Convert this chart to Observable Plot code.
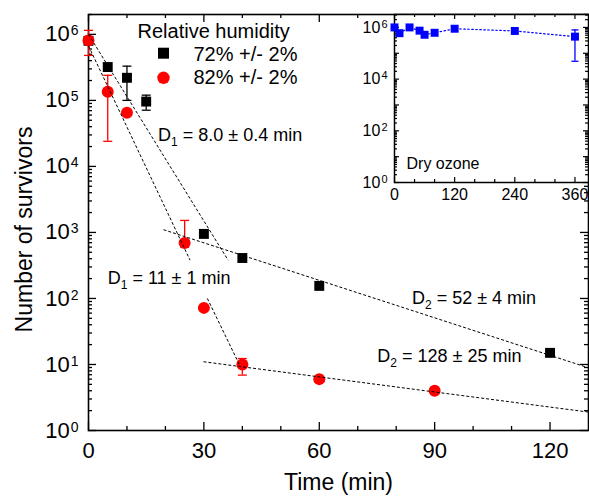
<!DOCTYPE html>
<html><head><meta charset="utf-8">
<script src="https://cdn.jsdelivr.net/npm/d3@7"></script>
<script src="https://cdn.jsdelivr.net/npm/@observablehq/plot@0.6"></script>
<style>
html,body{margin:0;padding:0;background:#fff;}
#wrap{position:relative;width:589px;height:496px;overflow:hidden;}
#inset{position:absolute;left:340px;top:0;}
#main svg,#inset svg{display:block;}
</style></head><body>
<div id="wrap"><div id="main"></div><div id="inset"></div></div>
<script>
const FONT = '"Liberation Sans", Arial, Helvetica, sans-serif';

// ---- main data: 72% RH (black squares)
const t72 = [0, 5, 10, 15, 30, 40, 60, 120];
const n72 = [8e5, 3.2e5, 2.2e5, 9.6e4, 950, 410, 155, 15];
const errT72 = [10, 15];
const errLo72 = [1.0e5, 7.1e4];
const errHi72 = [3.3e5, 1.2e5];

// ---- main data: 82% RH (red circles)
const t82 = [0, 5, 10, 25, 30, 40, 60, 90];
const n82 = [8.1e5, 1.35e5, 6.5e4, 690, 72, 10, 6, 4];
const errT82 = [0, 5, 25, 40];
const errLo82 = [4.8e5, 2.4e4, 600, 6.9];
const errHi82 = [1.15e6, 2.4e5, 1520, 12.3];

// ---- fitted lines (segments)
const fitT0 = [0, 0, 19.5, 30.9, 29.9];
const fitN0 = [1e6, 6.7e5, 1100, 100, 11];
const fitT1 = [36.3, 26.4, 130, 39.4, 130];
const fitN1 = [380, 380, 8.9, 9.5, 1.9];

// ---- annotations
const annT = [18.1, 5.0, 84.1, 75.1];
const annN = [2.95e4, 201, 100, 13.2];
const annText = ["D_1 = 8.0 ± 0.4 min", "D_1 = 11 ± 1 min", "D_2 = 52 ± 4 min", "D_2 = 128 ± 25 min"];

// ---- legend / titles
const legendTitle = "Relative humidity";
const legendLabels = ["72% +/- 2%", "82% +/- 2%"];
const xTitle = "Time (min)";
const yTitle = "Number of survivors";
const xTicks = [0, 30, 60, 90, 120];
const yTicks = [1, 10, 100, 1e3, 1e4, 1e5, 1e6];

// ---- inset data: dry ozone
const tOz = [0, 10, 30, 50, 60, 80, 120, 240, 360];
const nOz = [1e6, 6e5, 1e6, 7.5e5, 5.2e5, 6.2e5, 8.9e5, 7.3e5, 4.4e5];
const errTOz = [360];
const errLoOz = [4.9e4];
const errHiOz = [8e5];
const insetLabel = "Dry ozone";
const insetXTicks = [0, 120, 240, 360];
const insetYTicks = [1, 1e2, 1e4, 1e6];

// ---- helpers
const zip = (a, b) => a.map((v, i) => ({t: v, n: b[i]}));
const errTable = (t, lo, hi) => t.map((v, i) => ({t: v, lo: lo[i], hi: hi[i]}));
const minorLog = (lo, hi) => { const r = []; for (let e = lo; e < hi; e++) for (let k = 2; k <= 9; k++) r.push(k * 10 ** e); return r; };
const cap = {draw(ctx, size) { const h = Math.sqrt(size / Math.PI); ctx.moveTo(-h, 0); ctx.lineTo(h, 0); }};
const expFmt = d => "10^" + Math.round(Math.log10(d));

const NS = "http://www.w3.org/2000/svg";
function richText(svg, supSize, supDy, subSize, subDy) {
  svg.querySelectorAll("text").forEach(el => {
    const s = el.textContent;
    let m = s.match(/^(10)\^(\d+)$/);
    if (m) {
      el.textContent = m[1];
      const ts = document.createElementNS(NS, "tspan");
      ts.setAttribute("dy", supDy); ts.setAttribute("dx", 1);
      ts.setAttribute("font-size", supSize); ts.textContent = m[2];
      el.appendChild(ts);
      return;
    }
    m = s.match(/^(.*?)_(\d)(.*)$/);
    if (m) {
      el.textContent = m[1];
      const a = document.createElementNS(NS, "tspan");
      a.setAttribute("dy", subDy); a.setAttribute("font-size", subSize); a.textContent = m[2];
      const b = document.createElementNS(NS, "tspan");
      b.setAttribute("dy", -subDy); b.textContent = m[3];
      el.appendChild(a); el.appendChild(b);
    }
  });
}

// ---- main plot
const W = 589, H = 496, mL = 88, mR = 1, mT = 14, mB = 66;
const fw = W - mL - mR, fh = H - mT - mB;
const xMinor = d3.range(10, 130, 10).filter(v => v % 30 !== 0);
const yMinor = minorLog(0, 6).concat([2e6]).filter(v => v <= 2e6);
const fits = fitT0.map((v, i) => ({t0: v, n0: fitN0[i], t1: fitT1[i], n1: fitN1[i]}));
const anns = annT.map((v, i) => ({t: v, n: annN[i], label: annText[i]}));
const tk = {stroke: "black", strokeWidth: 1.3};

const main = Plot.plot({
  width: W, height: H, marginLeft: mL, marginRight: mR, marginTop: mT, marginBottom: mB,
  style: {fontFamily: FONT, fontSize: "22px", background: "white", color: "black"},
  x: {domain: [0, 130]},
  y: {type: "log", domain: [1, 2e6]},
  marks: [
    Plot.tickX(xMinor, {x: d => d, insetTop: fh - 4, ...tk}),
    Plot.tickX(xMinor, {x: d => d, insetBottom: fh - 4, ...tk}),
    Plot.tickX(xTicks, {x: d => d, insetTop: fh - 8, ...tk}),
    Plot.tickX(xTicks, {x: d => d, insetBottom: fh - 8, ...tk}),
    Plot.tickY(yMinor, {y: d => d, insetRight: fw - 4, ...tk}),
    Plot.tickY(yMinor, {y: d => d, insetLeft: fw - 4, ...tk}),
    Plot.tickY(yTicks, {y: d => d, insetRight: fw - 8, ...tk}),
    Plot.tickY(yTicks, {y: d => d, insetLeft: fw - 8, ...tk}),
    Plot.axisX({ticks: xTicks, tickSize: 0, tickPadding: 12, label: null, fontSize: 22}),
    Plot.axisY({ticks: yTicks, tickSize: 0, tickPadding: 10, label: null, fontSize: 22, tickFormat: expFmt}),
    Plot.frame({stroke: "black", strokeWidth: 1.6}),
    // error bars
    Plot.ruleX(errTable(errT72, errLo72, errHi72), {x: "t", y1: "lo", y2: "hi", stroke: "black", strokeWidth: 1.3}),
    Plot.dot(errTable(errT72, errLo72, errHi72), {x: "t", y: "lo", symbol: cap, r: 4.5, stroke: "black", strokeWidth: 1.3, fill: "none"}),
    Plot.dot(errTable(errT72, errLo72, errHi72), {x: "t", y: "hi", symbol: cap, r: 4.5, stroke: "black", strokeWidth: 1.3, fill: "none"}),
    Plot.ruleX(errTable(errT82, errLo82, errHi82), {x: "t", y1: "lo", y2: "hi", stroke: "red", strokeWidth: 1.3}),
    Plot.dot(errTable(errT82, errLo82, errHi82), {x: "t", y: "lo", symbol: cap, r: 4.5, stroke: "red", strokeWidth: 1.3, fill: "none"}),
    Plot.dot(errTable(errT82, errLo82, errHi82), {x: "t", y: "hi", symbol: cap, r: 4.5, stroke: "red", strokeWidth: 1.3, fill: "none"}),
    // points
    Plot.dot(zip(t72, n72), {x: "t", y: "n", symbol: "square", r: 5.6, fill: "black"}),
    Plot.dot(zip(t82, n82), {x: "t", y: "n", symbol: "circle", r: 6, fill: "red"}),
    // fits
    Plot.link(fits, {x1: "t0", y1: "n0", x2: "t1", y2: "n1", stroke: "black", strokeWidth: 1, strokeDasharray: "3,2"}),
    // annotations
    Plot.text(anns, {x: "t", y: "n", text: "label", textAnchor: "start", lineAnchor: "middle", fontSize: 18}),
    // legend
    Plot.text([legendTitle], {frameAnchor: "top-left", dx: 49, dy: 17, text: d => d, textAnchor: "start", lineAnchor: "middle", fontSize: 20}),
    Plot.dot([legendLabels[0]], {frameAnchor: "top-left", dx: 75, dy: 38.7, symbol: "square", r: 6.2, fill: "black"}),
    Plot.dot([legendLabels[1]], {frameAnchor: "top-left", dx: 75, dy: 63.3, symbol: "circle", r: 6.2, fill: "red"}),
    Plot.text([legendLabels[0]], {frameAnchor: "top-left", dx: 105, dy: 40, text: d => d, textAnchor: "start", lineAnchor: "middle", fontSize: 20}),
    Plot.text([legendLabels[1]], {frameAnchor: "top-left", dx: 105, dy: 63.5, text: d => d, textAnchor: "start", lineAnchor: "middle", fontSize: 20}),
    // axis titles
    Plot.text([xTitle], {frameAnchor: "bottom", dy: 52, text: d => d, textAnchor: "middle", lineAnchor: "middle", fontSize: 23}),
    Plot.text([yTitle], {frameAnchor: "left", dx: -64, dy: 7, text: d => d, rotate: -90, textAnchor: "middle", lineAnchor: "middle", fontSize: 23})
  ]
});
richText(main, 14, -6, 12, 5);
document.getElementById("main").appendChild(main);

// ---- inset plot
const iW = 249, iH = 210, imL = 54, imR = 1, imT = 14, imB = 28;
const ifw = iW - imL - imR, ifh = iH - imT - imB;
const iXMinor = d3.range(40, 387, 40).filter(v => v % 120 !== 0);
const iYMajor = [1, 10, 100, 1e3, 1e4, 1e5, 1e6];
const iYMinor = minorLog(0, 6).concat([2e6, 3e6]);
const itk = {stroke: "black", strokeWidth: 1.2};
const inset = Plot.plot({
  width: iW, height: iH, marginLeft: imL, marginRight: imR, marginTop: imT, marginBottom: imB,
  style: {fontFamily: FONT, fontSize: "16px", background: "transparent", color: "black", overflow: "visible"},
  x: {domain: [0, 387]},
  y: {type: "log", domain: [1, 10 ** 6.5]},
  marks: [
    Plot.frame({fill: "white"}),
    Plot.tickX(iXMinor, {x: d => d, insetTop: ifh - 3, ...itk}),
    Plot.tickX(iXMinor, {x: d => d, insetBottom: ifh - 3, ...itk}),
    Plot.tickX(insetXTicks, {x: d => d, insetTop: ifh - 5, ...itk}),
    Plot.tickX(insetXTicks, {x: d => d, insetBottom: ifh - 5, ...itk}),
    Plot.tickY(iYMinor, {y: d => d, insetRight: ifw - 3, ...itk}),
    Plot.tickY(iYMinor, {y: d => d, insetLeft: ifw - 3, ...itk}),
    Plot.tickY(iYMajor, {y: d => d, insetRight: ifw - 5, ...itk}),
    Plot.tickY(iYMajor, {y: d => d, insetLeft: ifw - 5, ...itk}),
    Plot.axisX({ticks: insetXTicks, tickSize: 0, tickPadding: 6, label: null, fontSize: 16}),
    Plot.axisY({ticks: insetYTicks, tickSize: 0, tickPadding: 7, label: null, fontSize: 16, tickFormat: expFmt}),
    Plot.frame({stroke: "black", strokeWidth: 1.5}),
    Plot.line(zip(tOz, nOz), {x: "t", y: "n", stroke: "#0000ff", strokeWidth: 1.2, strokeDasharray: "1.5,2.5"}),
    Plot.ruleX(errTable(errTOz, errLoOz, errHiOz), {x: "t", y1: "lo", y2: "hi", stroke: "#0000ff", strokeWidth: 1.3}),
    Plot.dot(errTable(errTOz, errLoOz, errHiOz), {x: "t", y: "lo", symbol: cap, r: 3.5, stroke: "#0000ff", strokeWidth: 1.3, fill: "none"}),
    Plot.dot(errTable(errTOz, errLoOz, errHiOz), {x: "t", y: "hi", symbol: cap, r: 3.5, stroke: "#0000ff", strokeWidth: 1.3, fill: "none"}),
    Plot.dot(zip(tOz, nOz), {x: "t", y: "n", symbol: "square", r: 4.5, fill: "#0000ff"}),
    Plot.text([insetLabel], {frameAnchor: "bottom-left", dx: 12, dy: -19, text: d => d, textAnchor: "start", lineAnchor: "middle", fontSize: 16})
  ]
});
richText(inset, 11, -5, 10, 4);
document.getElementById("inset").appendChild(inset);
</script>
</body></html>
